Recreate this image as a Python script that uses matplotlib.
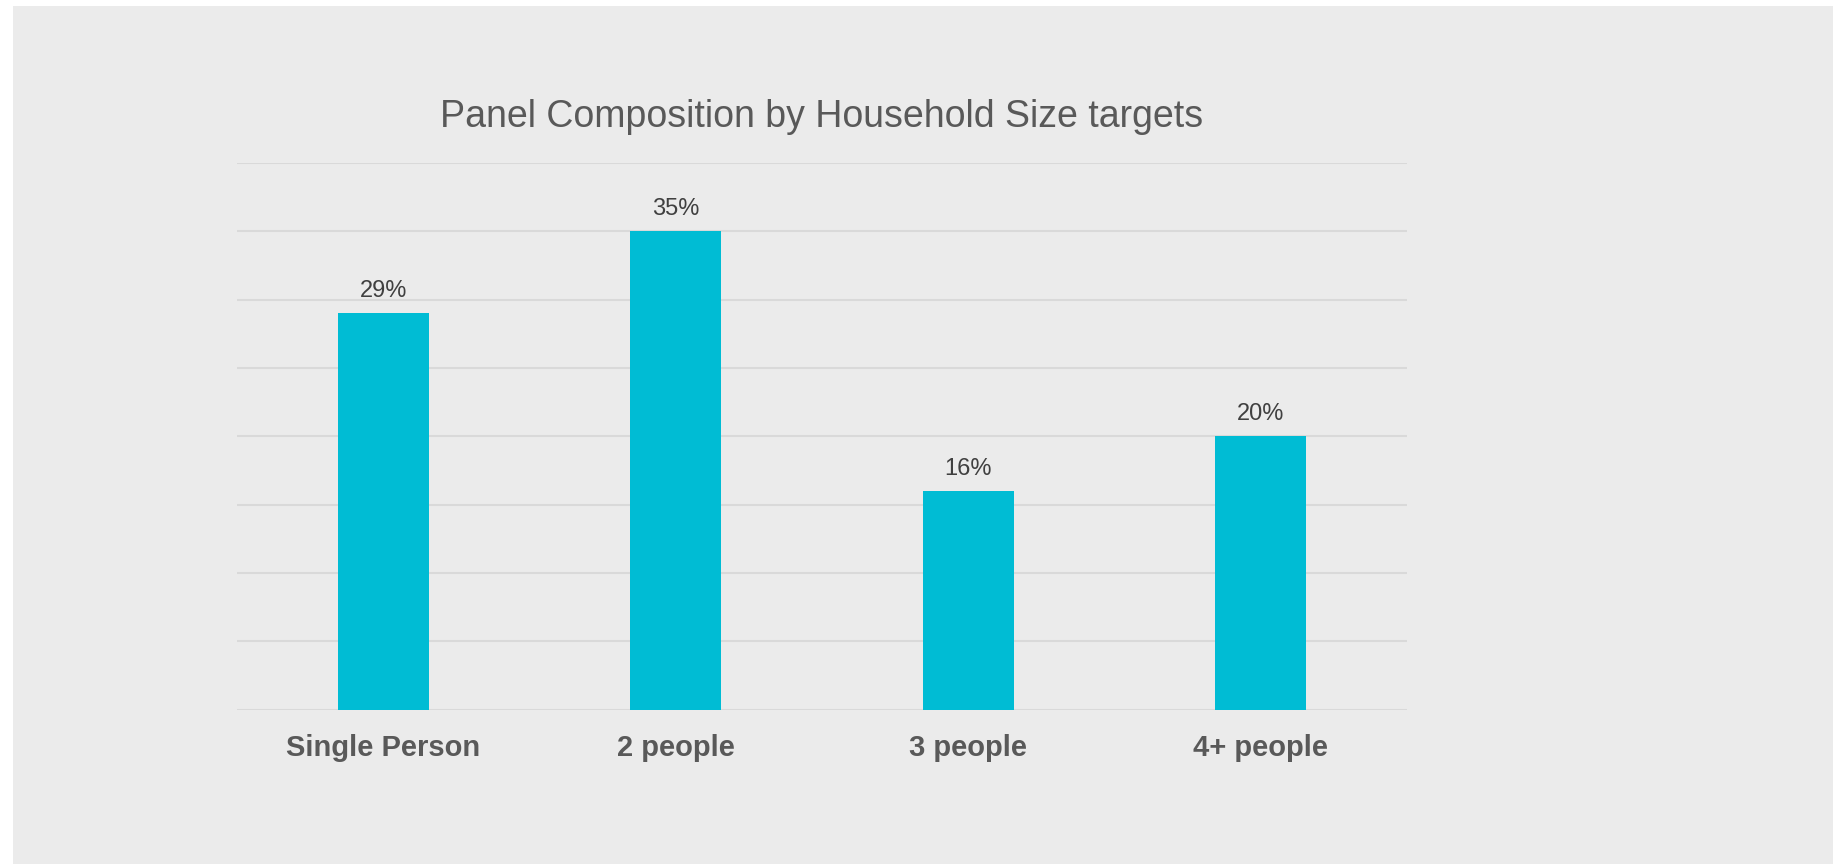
import matplotlib.pyplot as plt
from matplotlib.patches import Rectangle

categories = ['Single Person', '2 people', '3 people', '4+ people']
shares = [29, 35, 16, 20]
value_labels = ['29%', '35%', '16%', '20%']
y_ticks = [0, 5, 10, 15, 20, 25, 30, 35, 40]

plt.rcParams['font.family'] = ['Liberation Sans', 'DejaVu Sans']

fig = plt.figure(figsize=(18.39, 8.64), dpi=100)
fig.patch.set_facecolor('white')
# grey panel behind the chart
fig.patches.append(Rectangle((13 / 1839, 0), (1833 - 13) / 1839, (864 - 6) / 864,
                             transform=fig.transFigure, facecolor='#ebebeb',
                             edgecolor='none', zorder=-10))

ax = fig.add_axes([237 / 1839, 1 - 709.5 / 864, (1407 - 237) / 1839, (709.5 - 163) / 864])
ax.set_facecolor('none')

x = range(len(categories))
bars = ax.bar(x, shares, width=0.31, color='#00bcd4', zorder=3)

for b, lab in zip(bars, value_labels):
    ax.annotate(lab, (b.get_x() + b.get_width() / 2, b.get_height()),
                xytext=(0, 8), textcoords='offset points',
                ha='center', va='bottom', fontsize=17, color='#404040')

ax.set_xlim(-0.5, 3.5)
ax.set_ylim(0, 40)
ax.set_yticks(y_ticks)
ax.yaxis.grid(True, color='#d9d9d9', linewidth=1.5, zorder=0)
ax.tick_params(axis='y', left=False, labelleft=False)
ax.tick_params(axis='x', bottom=False, pad=14)
ax.set_xticks(list(x))
ax.set_xticklabels(categories, fontsize=21, fontweight='bold', color='#595959')
for s in ax.spines.values():
    s.set_visible(False)

ax.set_title('Panel Composition by Household Size targets', fontsize=27,
             color='#595959', pad=26)

plt.savefig('out.png', dpi=100)
